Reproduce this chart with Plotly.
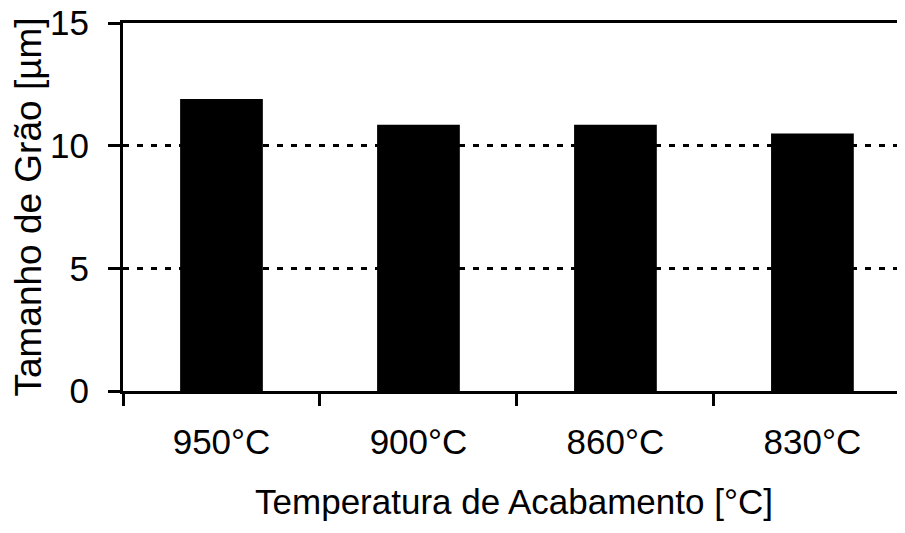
import plotly.graph_objects as go

categories = ["950°C", "900°C", "860°C", "830°C"]
grain_size = [11.9, 10.85, 10.85, 10.5]
y_ticks = [0, 5, 10, 15]

FONT = "Liberation Sans, Arial, sans-serif"
FS = 35

fig = go.Figure(
    go.Bar(
        x=categories,
        y=grain_size,
        marker=dict(color="black", line=dict(width=0)),
        width=0.42,
    )
)

fig.update_layout(
    width=905,
    height=533,
    margin=dict(l=115, r=8, t=15, b=150),
    paper_bgcolor="white",
    plot_bgcolor="white",
    showlegend=False,
    font=dict(family=FONT, size=FS, color="black"),
)

fig.update_xaxes(
    range=[-0.5, 3.47],
    automargin=False,
    showline=True,
    linecolor="black",
    linewidth=3,
    mirror=True,
    ticks="outside",
    tickson="boundaries",
    ticklen=12,
    tickwidth=3,
    tickcolor="black",
    showgrid=False,
    tickfont=dict(family=FONT, size=FS, color="black"),
    ticklabelstandoff=18,
    ticklabeloverflow="allow",
    title=dict(text="Temperatura de Acabamento [°C]",
               font=dict(family=FONT, size=FS, color="black"),
               standoff=30),
)

fig.update_yaxes(
    range=[0, 15],
    tickvals=y_ticks,
    automargin=False,
    showline=True,
    linecolor="black",
    linewidth=3,
    ticks="outside",
    ticklen=12,
    tickwidth=3,
    tickcolor="black",
    showgrid=True,
    gridcolor="black",
    gridwidth=2.5,
    griddash="6px,8px",
    zeroline=False,
    tickfont=dict(family=FONT, size=FS, color="black"),
    ticklabelstandoff=12,
    ticklabeloverflow="allow",
    title=dict(text="Tamanho de Grão [µm]",
               font=dict(family=FONT, size=37, color="black"),
               standoff=2),
)

fig.write_html("out.html")
